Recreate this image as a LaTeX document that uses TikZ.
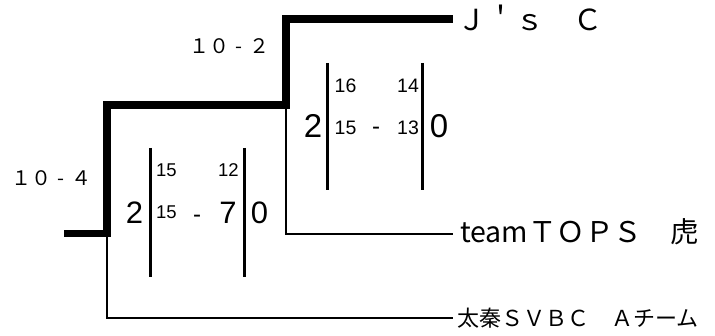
\documentclass[tikz,border=0pt]{standalone}
\usepackage{fontspec}
\setmainfont{Liberation Sans}
\newfontfamily\jp{Noto Sans CJK JP}
\newcommand{\hy}{\hbox to 20pt{\hss-\hss}}
\begin{document}
\begin{tikzpicture}[x=1pt,y=-1pt,
  thickln/.style={line width=7.8pt,line join=miter},
  thinln/.style={line width=2.8pt,line join=miter},
  barln/.style={line width=3pt},
  team/.style={anchor=base west,inner sep=0pt,font=\jp},
  setlbl/.style={anchor=base,inner sep=0pt,font=\jp\fontsize{20}{20}\selectfont},
  bigd/.style={anchor=base,inner sep=0pt,font=\fontsize{#1}{#1}\selectfont},
  smalld/.style={anchor=base,inner sep=0pt,font=\fontsize{#1}{#1}\selectfont}]
\useasboundingbox (0,0) rectangle (715,336);
% team names
\node[team,font=\jp\fontsize{29}{29}\selectfont] (js) at (457,31) {Ｊ＇ｓ　Ｃ};
\node[team,font=\jp\fontsize{28.5}{28.5}\selectfont] (tops) at (460,243) {teamＴＯＰＳ　虎};
\node[team,font=\jp\fontsize{22}{22}\selectfont] (uzu) at (457,327) {太秦ＳＶＢＣ　Ａチーム};
% bracket coordinates
\coordinate (root) at (64,233.5);
\coordinate (j1) at (107,233.5);
\coordinate (j1t) at (107,105);
\coordinate (j2) at (286,105);
\coordinate (j2t) at (286,19);
\coordinate (endjs) at (453,19);
\coordinate (j1b) at (107,318);
\coordinate (enduzu) at (453,318);
\coordinate (j2b) at (286,234);
\coordinate (endtops) at (453,234);
% thin lines
\draw[thinln] (j1) -- (j1b) -- (enduzu);
\draw[thinln] (j2) -- (j2b) -- (endtops);
% thick winner path
\draw[thickln] (root) -- (j1) -- (j1t) -- (j2) -- (j2t) -- (endjs);
% set labels
\node[setlbl] (s1) at (229,54) {１０\hy２};
\node[setlbl] (s2) at (51,186) {１０\hy４};
% score block 1
\coordinate (b1a) at (150.5,148);
\coordinate (b1b) at (150.5,277);
\coordinate (b1c) at (244.5,148);
\coordinate (b1d) at (244.5,277);
\draw[barln] (b1a) -- (b1b);
\draw[barln] (b1c) -- (b1d);
\node[bigd=31] (m1l) at (134.5,224) {2};
\node[bigd=31] (m1r) at (259.5,224) {0};
\node[smalld=18.5] (m1a) at (166.5,177) {15};
\node[smalld=18.5] (m1b) at (228.5,177) {12};
\node[smalld=18.5] (m1c) at (166.5,219) {15};
\node[smalld=24] (m1d) at (197,222.5) {-};
\node[bigd=31] (m1e) at (228,224) {7};
% score block 2
\coordinate (b2a) at (327.5,63);
\coordinate (b2b) at (327.5,190);
\coordinate (b2c) at (422.5,63);
\coordinate (b2d) at (422.5,190);
\draw[barln] (b2a) -- (b2b);
\draw[barln] (b2c) -- (b2d);
\node[bigd=33] (m2l) at (313,138) {2};
\node[bigd=33] (m2r) at (439,138) {0};
\node[smalld=19.5] (m2a) at (345.5,93) {16};
\node[smalld=19.5] (m2b) at (408,93) {14};
\node[smalld=19.5] (m2c) at (345.5,135) {15};
\node[smalld=24] (m2d) at (376,135) {-};
\node[smalld=19.5] (m2e) at (408,135) {13};
\end{tikzpicture}
\end{document}
